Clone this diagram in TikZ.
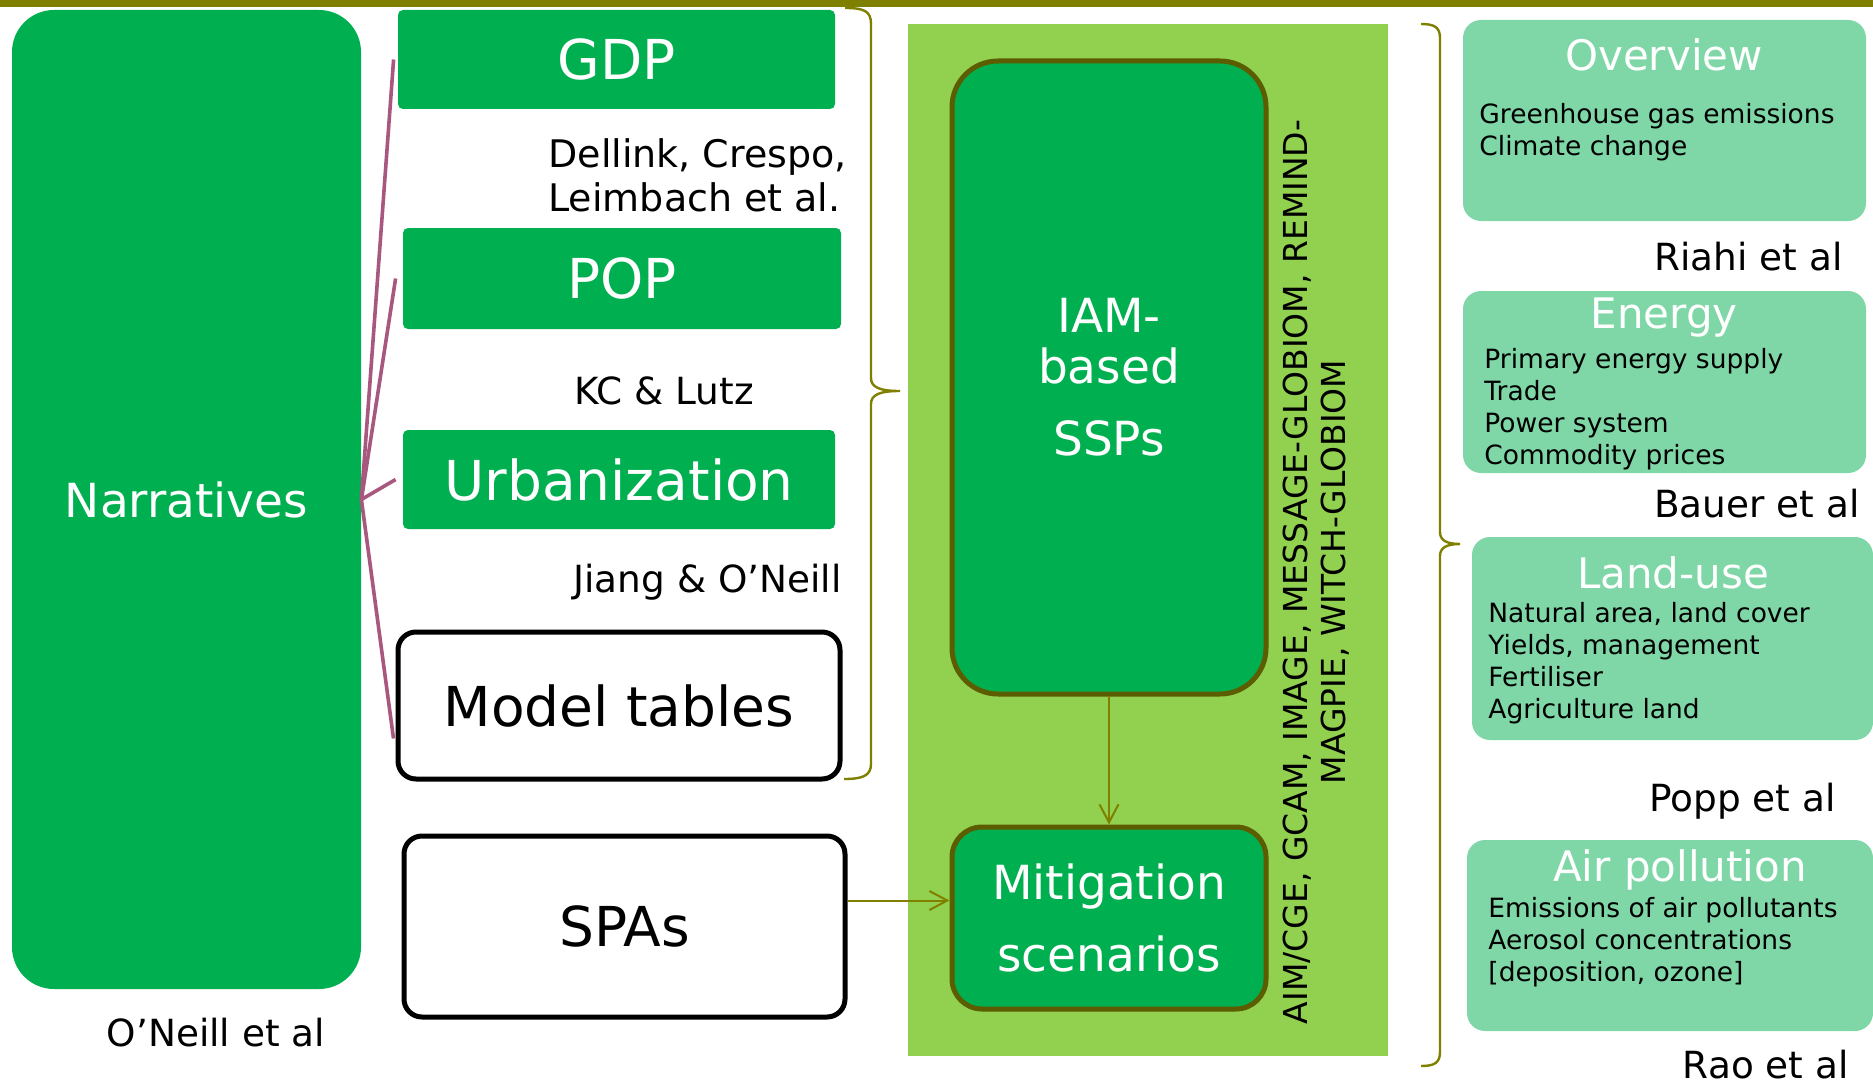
\documentclass[tikz,border=0pt]{standalone}
\usepackage{fontspec}
\setmainfont{DejaVu Sans}
\usepackage{xcolor}
\usepackage{tikz}
\usetikzlibrary{arrows.meta}

\definecolor{ssgreen}{RGB}{0,176,80}
\definecolor{panelgreen}{RGB}{146,208,80}
\definecolor{palegreen}{RGB}{127,215,167}
\definecolor{olivebar}{RGB}{127,127,0}
\definecolor{darkolive}{RGB}{92,92,0}
\definecolor{mauve}{RGB}{168,88,126}

\begin{document}
\begin{tikzpicture}[
            x=0.5pt, y=-0.5pt,
            greenbox/.style={rectangle, fill=ssgreen, text=white, inner sep=0pt, rounded corners=2.5pt, font=\fontsize{27.5}{33}\selectfont},
            whitebox/.style={rectangle, draw=black, line width=2.5pt, fill=white, rounded corners=9pt, inner sep=0pt, font=\fontsize{27.5}{33}\selectfont},
            iambox/.style={rectangle, draw=darkolive, line width=2.5pt, fill=ssgreen, text=white, align=center, inner sep=0pt, font=\fontsize{23.5}{28}\selectfont},
            topicbox/.style={rectangle, fill=palegreen, rounded corners=9pt, inner sep=0pt},
            topictitle/.style={text=white, inner sep=0pt, font=\fontsize{21}{25}\selectfont},
            topictext/.style={anchor=west, align=left, inner sep=0pt, font=\fontsize{13.25}{16}\selectfont},
            refnote/.style={inner sep=0pt, font=\fontsize{18.7}{22}\selectfont},
            link/.style={draw=mauve, line width=1.8pt},
            arrow/.style={-{Straight Barb[length=9pt,width=9.5pt]}, draw=olivebar, line width=1pt},
            bracket/.style={draw=olivebar, line width=1.2pt}
        ]
        \useasboundingbox (0,0) rectangle (1873,1086);
        \fill[olivebar] (0,0) rectangle (1873,7);
        
        % Narratives
        \node[greenbox, rounded corners=21pt, minimum width=174.5pt, minimum height=489.5pt, font=\fontsize{23.5}{28}\selectfont] (narr) at (186.5,499.5) {Narratives};
        \node[refnote] (oneill) at (216,1033) {O’Neill et al};
        
        % Drivers
        \node[greenbox, minimum width=218.5pt, minimum height=49.5pt] (gdp) at (616.5,59.5) {GDP};
        \node[refnote, anchor=west, align=left, font=\fontsize{19}{22}\selectfont] (dellink) at (548,175) {Dellink, Crespo,\\Leimbach et al.};
        \node[greenbox, minimum width=219pt, minimum height=50.5pt] (pop) at (622,278.5) {POP};
        \node[refnote] (kc) at (664,391) {KC \& Lutz};
        \node[greenbox, minimum width=216pt, minimum height=49.5pt] (urb) at (619,479.5) {Urbanization};
        \node[refnote, anchor=east] (jiang) at (842,582) {Jiang \& O’Neill};
        \node[whitebox, minimum width=221pt, minimum height=73.5pt] (model) at (619,705.5) {Model tables};
        \node[whitebox, minimum width=220.5pt, minimum height=90.5pt] (spa) at (624.5,926.5) {SPAs};
        
        % Links
        \draw[link] (narr.east) -- ([xshift=-2pt]gdp.west);
        \draw[link] (narr.east) -- ([xshift=-3.5pt]pop.west);
        \draw[link] (narr.east) -- ([xshift=-3.5pt]urb.west);
        \draw[link] (narr.east) -- ([xshift=-1pt,yshift=-16.5pt]model.west);
        
        % IAM panel
        \node[fill=panelgreen, inner sep=0pt, minimum width=240pt, minimum height=516pt] (panel) at (1148,540) {};
        \node[iambox, rounded corners=23pt, minimum width=157pt, minimum height=316.5pt] (iam) at (1109,377.5) {IAM-\\[-2.5pt]based\\[8pt]SSPs};
        \node[iambox, rounded corners=15pt, minimum width=157pt, minimum height=91pt] (mit) at (1109,918) {Mitigation\\[8pt]scenarios};
        \node[rotate=90, align=center, inner sep=0pt, font=\fontsize{16.5}{19}\selectfont] (models) at (1316,572) {AIM/CGE, GCAM, IMAGE, MESSAGE-GLOBIOM, REMIND-\\MAGPIE, WITCH-GLOBIOM};
        
        % Arrows
        \draw[arrow] (iam) -- (mit);
        \draw[arrow] ([yshift=13pt]spa.east) -- ([yshift=13pt]spa.east -| mit.west);
        
        % Braces
        \draw[bracket] (845,8) .. controls (864,8) and (871,11) .. (871,24) -- (871,378)
            .. controls (871,387) and (879,391) .. (900,391)
            .. controls (879,391) and (871,395) .. (871,404) -- (871,764)
            .. controls (871,776) and (862,779) .. (844,779);
        \draw[bracket] (1421,24) .. controls (1434,24) and (1440,27) .. (1440,38) -- (1440,532)
            .. controls (1440,540) and (1446,544) .. (1460,544)
            .. controls (1446,544) and (1440,548) .. (1440,556) -- (1440,1052)
            .. controls (1440,1063) and (1434,1066) .. (1421,1066);
        
        % Topics
        \node[topicbox, minimum width=201.5pt, minimum height=100.5pt] (ovbox) at (1664.5,120.5) {};
        \node[topictitle] (ovtitle) at (1664,55) {Overview};
        \node[topictext] (ovtext) at (1479,132) {Greenhouse gas emissions\\Climate change};
        \node[refnote, anchor=east] (riahi) at (1843,257) {Riahi et al};
        
        \node[topicbox, minimum width=201.5pt, minimum height=91pt] (enbox) at (1664.5,382) {};
        \node[topictitle] (entitle) at (1664,318) {Energy};
        \node[topictext] (entext) at (1484,409.5) {Primary energy supply\\Trade\\Power system\\Commodity prices};
        \node[refnote, anchor=east] (bauer) at (1860,504) {Bauer et al};
        
        \node[topicbox, minimum width=200.5pt, minimum height=101.5pt] (lubox) at (1672.5,638.5) {};
        \node[topictitle] (lutitle) at (1673,573) {Land-use};
        \node[topictext] (lutext) at (1488,663) {Natural area, land cover\\Yields, management\\Fertiliser\\Agriculture land};
        \node[refnote, anchor=east] (popp) at (1836,801) {Popp et al};
        
        \node[topicbox, minimum width=203pt, minimum height=95.5pt] (apbox) at (1670,935.5) {};
        \node[topictitle] (aptitle) at (1680,870) {Air pollution};
        \node[topictext] (aptext) at (1488,942) {Emissions of air pollutants\\Aerosol concentrations\\{[deposition, ozone]}};
        \node[refnote, anchor=east] (rao) at (1849,1065) {Rao et al};
        
        \end{tikzpicture}
\end{document}
